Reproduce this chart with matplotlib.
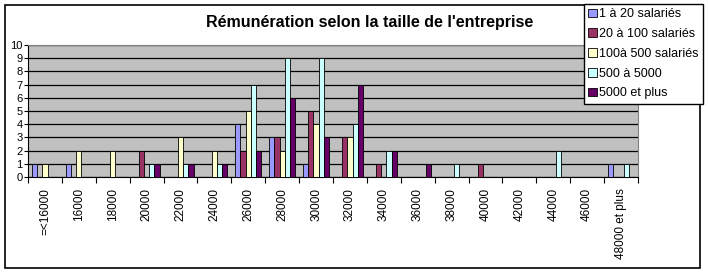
import numpy as np
import matplotlib
matplotlib.use("Agg")
import matplotlib.pyplot as plt
from matplotlib.patches import Rectangle

plt.rcParams['font.family'] = ['Liberation Sans', 'DejaVu Sans']

# salary brackets
categories = ['=<16000', '16000', '18000', '20000', '22000', '24000', '26000',
              '28000', '30000', '32000', '34000', '36000', '38000', '40000',
              '42000', '44000', '46000', '48000 et plus']

series_names = ['1 à 20 salariés', '20 à 100 salariés', '100à 500 salariés',
                '500 à 5000', '5000 et plus']

s_1_20 = [1, 1, 0, 0, 0, 0, 4, 3, 1, 0, 0, 0, 0, 0, 0, 0, 0, 1]
s_20_100 = [0, 0, 0, 2, 0, 0, 2, 3, 5, 3, 1, 0, 0, 1, 0, 0, 0, 0]
s_100_500 = [1, 2, 2, 0, 3, 2, 5, 2, 4, 3, 0, 0, 0, 0, 0, 0, 0, 0]
s_500_5000 = [0, 0, 0, 1, 1, 1, 7, 9, 9, 4, 2, 0, 1, 0, 0, 2, 0, 1]
s_5000_plus = [0, 0, 0, 1, 1, 1, 2, 6, 3, 7, 2, 1, 0, 0, 0, 0, 0, 0]

series = [s_1_20, s_20_100, s_100_500, s_500_5000, s_5000_plus]
colors = ['#9999FF', '#993366', '#FFFFCC', '#CCFFFF', '#660066']

fig = plt.figure(figsize=(7.08, 2.73), dpi=100)
ax = fig.add_axes([28 / 708, 1 - 177 / 273, 610 / 708, 132 / 273])

x = np.arange(len(categories))
w = 1 / 6.5
handles = []
for i, (vals, col) in enumerate(zip(series, colors)):
    b = ax.bar(x - 2.5 * w + (i + 0.5) * w, vals, width=w, color=col,
               edgecolor='black', linewidth=0.6, zorder=3, label=series_names[i])
    handles.append(b)

ax.set_facecolor('#C0C0C0')
ax.set_xlim(-0.5, len(categories) - 0.5)
ax.set_ylim(0, 10)
ax.set_yticks(range(0, 11))
ax.yaxis.grid(True, color='black', linewidth=0.9, zorder=1)
ax.tick_params(axis='y', labelsize=8, length=3, width=0.8, pad=1)

ax.set_xticks(x)
ax.set_xticklabels(categories, rotation=90, fontsize=8.5)
ax.tick_params(axis='x', which='major', length=0, pad=8)
ax.set_xticks(np.arange(-0.5, len(categories)), minor=True)
ax.tick_params(axis='x', which='minor', length=4, width=0.8)

for side in ['top', 'right']:
    ax.spines[side].set_color('#808080')
for side in ['left', 'bottom']:
    ax.spines[side].set_color('black')

fig.text(370 / 708, 1 - 23 / 273, "Rémunération selon la taille de l'entreprise",
         ha='center', va='center', fontsize=11.5, fontweight='bold')

# chart border
fig.patches.append(Rectangle((5 / 708, 5 / 273), 695 / 708, 263 / 273,
                             transform=fig.transFigure, fill=False,
                             edgecolor='black', linewidth=1.2))

leg = fig.legend(handles=handles, loc='upper right',
                 bbox_to_anchor=(703 / 708, 1 - 4 / 273), fontsize=9,
                 frameon=True, fancybox=False, borderpad=0.35,
                 handlelength=0.7, handleheight=0.7, handletextpad=0.2,
                 labelspacing=0.62, borderaxespad=0)
leg.get_frame().set_edgecolor('black')
leg.get_frame().set_linewidth(1.0)
leg.get_frame().set_alpha(1)

fig.savefig('out.png', dpi=100)
